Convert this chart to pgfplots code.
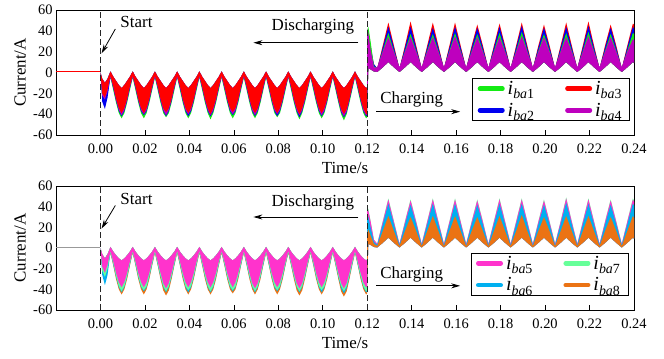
\documentclass[border=0pt]{standalone}
\usepackage{pgfplots}
\pgfplotsset{compat=1.18}
\usepackage{pgfplotstable}
\usepgfplotslibrary{fillbetween}
\usetikzlibrary{arrows.meta}
\usepackage{fontspec}
\setmainfont{Liberation Serif}

\definecolor{colG}{RGB}{20,235,20}
\definecolor{colB}{RGB}{0,0,240}
\definecolor{colR}{RGB}{255,0,0}
\definecolor{colM}{RGB}{190,0,190}
\definecolor{colP}{RGB}{255,51,204}
\definecolor{colC}{RGB}{0,176,240}
\definecolor{colL}{RGB}{102,255,153}
\definecolor{colO}{RGB}{235,115,20}

% top plot, discharging: shared upper edge (hi), lower edges g b m r
\pgfplotstableread{
t hi g b m r
0.0000 0 0 0 0 0
0.0008 -6 -24 -28 -22 -20
0.0020 -10 -28 -35 -26 -24
0.0032 -6 -20 -24 -18 -16
0.0045 1 -5 -4 -4 -3
0.00575 -4 -17 -15 -14 -13
0.00700 -8 -29 -27 -26 -25
0.00825 -12 -39 -37 -36 -34
0.00950 -15 -44 -42 -41 -39
0.01075 -12 -39 -37 -36 -34
0.01200 -8 -29 -27 -26 -25
0.01325 -4 -17 -15 -14 -13
0.01450 1 -5 -4 -4 -3
0.01575 -4 -17 -15 -14 -13
0.01700 -8 -29 -27 -26 -25
0.01825 -12 -39 -37 -36 -34
0.01950 -15 -44 -41 -40 -39
0.02075 -12 -39 -37 -36 -34
0.02200 -8 -29 -27 -26 -25
0.02325 -4 -17 -15 -14 -13
0.02450 1 -5 -4 -4 -3
0.02575 -4 -17 -15 -14 -13
0.02700 -8 -29 -27 -26 -25
0.02825 -12 -39 -37 -36 -34
0.02950 -15 -43 -42 -41 -38
0.03075 -12 -39 -37 -36 -34
0.03200 -8 -29 -27 -26 -25
0.03325 -4 -17 -15 -14 -13
0.03450 1 -5 -4 -4 -3
0.03575 -4 -17 -15 -14 -13
0.03700 -8 -29 -27 -26 -25
0.03825 -12 -39 -37 -36 -34
0.03950 -15 -44 -42 -40 -39
0.04075 -12 -39 -37 -36 -34
0.04200 -8 -29 -27 -26 -25
0.04325 -4 -17 -15 -14 -13
0.04450 1 -5 -4 -4 -3
0.04575 -4 -17 -15 -14 -13
0.04700 -8 -29 -27 -26 -25
0.04825 -12 -39 -37 -36 -34
0.04950 -15 -45 -42 -41 -40
0.05075 -12 -39 -37 -36 -34
0.05200 -8 -29 -27 -26 -25
0.05325 -4 -17 -15 -14 -13
0.05450 1 -5 -4 -4 -3
0.05575 -4 -17 -15 -14 -13
0.05700 -8 -29 -27 -26 -25
0.05825 -12 -39 -37 -36 -34
0.05950 -15 -44 -41 -40 -38
0.06075 -12 -39 -37 -36 -34
0.06200 -8 -29 -27 -26 -25
0.06325 -4 -17 -15 -14 -13
0.06450 1 -5 -4 -4 -3
0.06575 -4 -17 -15 -14 -13
0.06700 -8 -29 -27 -26 -25
0.06825 -12 -39 -37 -36 -34
0.06950 -15 -44 -42 -41 -39
0.07075 -12 -39 -37 -36 -34
0.07200 -8 -29 -27 -26 -25
0.07325 -4 -17 -15 -14 -13
0.07450 1 -5 -4 -4 -3
0.07575 -4 -17 -15 -14 -13
0.07700 -8 -29 -27 -26 -25
0.07825 -12 -39 -37 -36 -34
0.07950 -15 -43 -42 -40 -39
0.08075 -12 -39 -37 -36 -34
0.08200 -8 -29 -27 -26 -25
0.08325 -4 -17 -15 -14 -13
0.08450 1 -5 -4 -4 -3
0.08575 -4 -17 -15 -14 -13
0.08700 -8 -29 -27 -26 -25
0.08825 -12 -39 -37 -36 -34
0.08950 -15 -45 -43 -41 -40
0.09075 -12 -39 -37 -36 -34
0.09200 -8 -29 -27 -26 -25
0.09325 -4 -17 -15 -14 -13
0.09450 1 -5 -4 -4 -3
0.09575 -4 -17 -15 -14 -13
0.09700 -8 -29 -27 -26 -25
0.09825 -12 -39 -37 -36 -34
0.09950 -15 -44 -42 -41 -39
0.10075 -12 -39 -37 -36 -34
0.10200 -8 -29 -27 -26 -25
0.10325 -4 -17 -15 -14 -13
0.10450 1 -5 -4 -4 -3
0.10575 -4 -17 -15 -14 -13
0.10700 -8 -29 -27 -26 -25
0.10825 -12 -40 -38 -37 -35
0.10950 -15 -46 -43 -42 -40
0.11075 -12 -40 -38 -37 -35
0.11200 -8 -29 -27 -26 -25
0.11325 -4 -17 -15 -14 -13
0.11450 1 -5 -4 -4 -3
0.11575 -4 -17 -15 -14 -13
0.11700 -8 -29 -27 -26 -25
0.11825 -12 -39 -37 -36 -34
0.11950 -15 -44 -42 -41 -40
0.12000 -14 -43 -41 -40 -39
}\dA

% top plot, charging: shared lower edge (lo), upper edges r b g m
\pgfplotstableread{
t lo r b g m
0.1200 -30 28 36 40 42
0.1205 4 30 40 44 38
0.1215 3 22 26 30 22
0.1230 1 8 8 6 5
0.1245 0.5 4 4 4 5
0.1270 5 26 24 21 20
0.1295 10 48 44 38 34
0.1320 5 26 24 21 20
0.1345 0.5 4 4 4 5
0.1370 5 26 24 21 20
0.1395 10 49 44 37 34
0.1420 5 26 24 21 20
0.1445 0.5 4 4 4 5
0.1470 5 26 24 21 20
0.1495 10 48 43 37 34
0.1520 5 26 24 21 20
0.1545 0.5 4 4 4 5
0.1570 5 26 24 21 20
0.1595 10 48 44 38 35
0.1620 5 26 24 21 20
0.1645 0.5 4 4 4 5
0.1670 5 26 24 21 20
0.1695 10 46 43 37 34
0.1720 5 26 24 21 20
0.1745 0.5 4 4 4 5
0.1770 5 26 24 21 20
0.1795 10 47 44 38 34
0.1820 5 26 24 21 20
0.1845 0.5 4 4 4 5
0.1870 5 26 24 21 20
0.1895 10 48 45 39 35
0.1920 5 26 24 21 20
0.1945 0.5 4 4 4 5
0.1970 5 26 24 21 20
0.1995 10 46 43 37 34
0.2020 5 26 24 21 20
0.2045 0.5 4 4 4 5
0.2070 5 26 24 21 20
0.2095 10 48 44 38 34
0.2120 5 26 24 21 20
0.2145 0.5 4 4 4 5
0.2170 5 26 24 21 20
0.2195 10 49 45 39 35
0.2220 5 26 24 21 20
0.2245 0.5 4 4 4 5
0.2270 5 26 24 21 20
0.2295 10 46 43 37 34
0.2320 5 26 24 21 20
0.2345 0.5 4 4 4 5
0.2370 5 26 24 21 20
0.2395 10 47 44 38 32
0.2400 9 46 42 37 31
}\cA

% bottom plot, discharging: shared upper edge (hi), lower edges o c g p
\pgfplotstableread{
t hi o c g p
0.0000 0 0 0 0 0
0.0008 -6 -20 -26 -22 -18
0.0020 -10 -26 -36 -28 -24
0.0032 -6 -20 -26 -20 -16
0.0045 1 -5 -4 -4 -3
0.00575 -3.5 -17 -16 -15 -13
0.00700 -7 -30 -28 -27 -24
0.00825 -10 -40 -38 -37 -33
0.00950 -12 -45 -43 -42 -38
0.01075 -10 -40 -38 -37 -33
0.01200 -7 -30 -28 -27 -24
0.01325 -3.5 -17 -16 -15 -13
0.01450 1 -5 -4 -4 -3
0.01575 -3.5 -17 -16 -15 -13
0.01700 -7 -30 -28 -27 -24
0.01825 -10 -40 -38 -37 -33
0.01950 -12 -45 -42 -41 -38
0.02075 -10 -40 -38 -37 -33
0.02200 -7 -30 -28 -27 -24
0.02325 -3.5 -17 -16 -15 -13
0.02450 1 -5 -4 -4 -3
0.02575 -3.5 -17 -16 -15 -13
0.02700 -7 -30 -28 -27 -24
0.02825 -10 -41 -38 -37 -34
0.02950 -12 -46 -43 -42 -39
0.03075 -10 -41 -38 -37 -34
0.03200 -7 -30 -28 -27 -24
0.03325 -3.5 -17 -16 -15 -13
0.03450 1 -5 -4 -4 -3
0.03575 -3.5 -17 -16 -15 -13
0.03700 -7 -30 -28 -27 -24
0.03825 -10 -40 -38 -37 -33
0.03950 -12 -45 -43 -41 -38
0.04075 -10 -40 -38 -37 -33
0.04200 -7 -30 -28 -27 -24
0.04325 -3.5 -17 -16 -15 -13
0.04450 1 -5 -4 -4 -3
0.04575 -3.5 -17 -16 -15 -13
0.04700 -7 -30 -28 -27 -24
0.04825 -10 -40 -38 -37 -33
0.04950 -12 -45 -43 -42 -38
0.05075 -10 -40 -38 -37 -33
0.05200 -7 -30 -28 -27 -24
0.05325 -3.5 -17 -16 -15 -13
0.05450 1 -5 -4 -4 -3
0.05575 -3.5 -17 -16 -15 -13
0.05700 -7 -30 -28 -27 -24
0.05825 -10 -40 -38 -37 -33
0.05950 -12 -44 -42 -41 -38
0.06075 -10 -40 -38 -37 -33
0.06200 -7 -30 -28 -27 -24
0.06325 -3.5 -17 -16 -15 -13
0.06450 1 -5 -4 -4 -3
0.06575 -3.5 -17 -16 -15 -13
0.06700 -7 -30 -28 -27 -24
0.06825 -10 -40 -38 -37 -34
0.06950 -12 -45 -43 -42 -39
0.07075 -10 -40 -38 -37 -34
0.07200 -7 -30 -28 -27 -24
0.07325 -3.5 -17 -16 -15 -13
0.07450 1 -5 -4 -4 -3
0.07575 -3.5 -17 -16 -15 -13
0.07700 -7 -30 -28 -27 -24
0.07825 -10 -40 -38 -37 -33
0.07950 -12 -45 -42 -41 -38
0.08075 -10 -40 -38 -37 -33
0.08200 -7 -30 -28 -27 -24
0.08325 -3.5 -17 -16 -15 -13
0.08450 1 -5 -4 -4 -3
0.08575 -3.5 -17 -16 -15 -13
0.08700 -7 -30 -28 -27 -24
0.08825 -10 -41 -38 -37 -34
0.08950 -12 -46 -43 -42 -39
0.09075 -10 -41 -38 -37 -34
0.09200 -7 -30 -28 -27 -24
0.09325 -3.5 -17 -16 -15 -13
0.09450 1 -5 -4 -4 -3
0.09575 -3.5 -17 -16 -15 -13
0.09700 -7 -30 -28 -27 -24
0.09825 -10 -40 -38 -37 -33
0.09950 -12 -45 -43 -41 -38
0.10075 -10 -40 -38 -37 -33
0.10200 -7 -30 -28 -27 -24
0.10325 -3.5 -17 -16 -15 -13
0.10450 1 -5 -4 -4 -3
0.10575 -3.5 -17 -16 -15 -13
0.10700 -7 -30 -28 -27 -24
0.10825 -10 -42 -39 -37 -34
0.10950 -12 -47 -44 -42 -39
0.11075 -10 -42 -39 -37 -34
0.11200 -7 -30 -28 -27 -24
0.11325 -3.5 -17 -16 -15 -13
0.11450 1 -5 -4 -4 -3
0.11575 -3.5 -17 -16 -15 -13
0.11700 -7 -30 -28 -27 -24
0.11825 -10 -40 -38 -37 -33
0.11950 -12 -45 -43 -42 -38
0.12000 -11 -44 -42 -41 -37
}\dB

% bottom plot, charging: shared lower edge (lo), upper edges g p c o
\pgfplotstableread{
t lo g p c o
0.1200 -30 36 40 30 14
0.1205 4 38 36 30 18
0.1215 3 26 26 20 12
0.1230 1 8 8 6 4
0.1245 0.5 4 4 3 2
0.1270 5 26 25.5 23 16.5
0.1295 10 48 47 43 31
0.1320 5 26 25.5 23 16.5
0.1345 0.5 4 4 3 2
0.1370 5 26 25.5 23 16.5
0.1395 10 47 46 42 30
0.1420 5 26 25.5 23 16.5
0.1445 0.5 4 4 3 2
0.1470 5 26 25.5 23 16.5
0.1495 10 48 47 43 31
0.1520 5 26 25.5 23 16.5
0.1545 0.5 4 4 3 2
0.1570 5 26 25.5 23 16.5
0.1595 10 48 47 43 31
0.1620 5 26 25.5 23 16.5
0.1645 0.5 4 4 3 2
0.1670 5 26 25.5 23 16.5
0.1695 10 47 46 42 30
0.1720 5 26 25.5 23 16.5
0.1745 0.5 4 4 3 2
0.1770 5 26 25.5 23 16.5
0.1795 10 48 47 43 31
0.1820 5 26 25.5 23 16.5
0.1845 0.5 4 4 3 2
0.1870 5 26 25.5 23 16.5
0.1895 10 48 47 43 32
0.1920 5 26 25.5 23 16.5
0.1945 0.5 4 4 3 2
0.1970 5 26 25.5 23 16.5
0.1995 10 47 46 42 30
0.2020 5 26 25.5 23 16.5
0.2045 0.5 4 4 3 2
0.2070 5 26 25.5 23 16.5
0.2095 10 49 48 44 31
0.2120 5 26 25.5 23 16.5
0.2145 0.5 4 4 3 2
0.2170 5 26 25.5 23 16.5
0.2195 10 48 47 43 31
0.2220 5 26 25.5 23 16.5
0.2245 0.5 4 4 3 2
0.2270 5 26 25.5 23 16.5
0.2295 10 47 46 42 30
0.2320 5 26 25.5 23 16.5
0.2345 0.5 4 4 3 2
0.2370 5 26 25.5 23 16.5
0.2395 10 48 47 43 31
0.2400 9 46 45 41 29
}\cB

\pgfplotsset{
  myax/.style={
    scale only axis, width=578bp, height=125bp,
    xmin=-0.02, xmax=0.24, ymin=-60, ymax=60,
    xtick={0,0.02,0.04,0.06,0.08,0.1,0.12,0.14,0.16,0.18,0.2,0.22,0.24},
    xticklabels={0.00,0.02,0.04,0.06,0.08,0.10,0.12,0.14,0.16,0.18,0.20,0.22,0.24},
    ytick={-60,-40,-20,0,20,40,60},
    yticklabels={-60,-40,-20,0,20,40,60},
    xtick pos=left, ytick style={draw=none},
    major tick length=5bp,
    every tick/.style={black, line width=0.6pt},
    axis line style={line width=0.8pt},
    ticklabel style={font=\fontsize{14.5}{16}\selectfont},
    xticklabel style={yshift=-5bp},
    label style={font=\fontsize{17}{19}\selectfont},
    xlabel={Time/s}, ylabel={Current/A},
    xlabel style={at={(axis description cs:0.5,-0.265)}, anchor=center},
    ylabel style={at={(axis description cs:-0.062,0.5)}, anchor=center},
    legend columns=2,
    legend cell align=left,
    legend image code/.code={\draw[##1, line width=4.5bp, line cap=round] (2.25bp,0bp) -- (24.75bp,0bp);},
    legend style={draw=black, line width=0.6pt, fill=white,
      inner xsep=5bp, inner ysep=2bp,
      nodes={inner xsep=3bp, inner ysep=1bp},
      row sep=5bp, /tikz/every even column/.append style={column sep=28bp}},
  },
}
\tikzset{
  ann/.style={font=\fontsize{17}{19}\selectfont},
  arr/.style={-{Stealth[length=9bp,width=5bp]}, line width=0.8pt},
  vdash/.style={dash pattern=on 6bp off 3bp, line width=0.8pt, black!85},
}
\newcommand{\lab}[1]{{\fontsize{20}{20}\selectfont\textit{i}}{\fontsize{14}{14}\selectfont\raisebox{-0.3em}{\textit{ba}#1}}}

\begin{document}
\begin{tikzpicture}
% ---------------- top axis ----------------
\begin{axis}[myax, legend style={at={(0.993,0.456)}, anchor=north east}]
\addplot[colM, line width=1.2pt, forget plot] coordinates {(-0.02,0.8) (0,0.8)};
\addplot[colR, line width=0.6pt, forget plot] coordinates {(-0.02,0.8) (0,0.8)};
% discharging
\addplot[draw=none, forget plot, name path=dAhi] table[x=t, y=hi] {\dA};
\addplot[draw=none, forget plot, name path=dAg] table[x=t, y=g] {\dA};
\addplot[draw=none, forget plot, name path=dAb] table[x=t, y=b] {\dA};
\addplot[draw=none, forget plot, name path=dAm] table[x=t, y=m] {\dA};
\addplot[draw=none, forget plot, name path=dAr] table[x=t, y=r] {\dA};
\addplot[fill=colG, draw=none, forget plot] fill between[of=dAhi and dAg];
\addplot[fill=colB, draw=none, forget plot] fill between[of=dAhi and dAb];
\addplot[fill=colM, draw=none, forget plot] fill between[of=dAhi and dAm];
\addplot[fill=colR, draw=none, forget plot] fill between[of=dAhi and dAr];
% charging
\addplot[draw=none, forget plot, name path=cAlo] table[x=t, y=lo] {\cA};
\addplot[draw=none, forget plot, name path=cAr] table[x=t, y=r] {\cA};
\addplot[draw=none, forget plot, name path=cAb] table[x=t, y=b] {\cA};
\addplot[draw=none, forget plot, name path=cAg] table[x=t, y=g] {\cA};
\addplot[draw=none, forget plot, name path=cAm] table[x=t, y=m] {\cA};
\addplot[fill=colR, draw=none, forget plot] fill between[of=cAlo and cAr];
\addplot[fill=colB, draw=none, forget plot] fill between[of=cAlo and cAb];
\addplot[fill=colG, draw=none, forget plot] fill between[of=cAlo and cAg];
\addplot[fill=colM, draw=none, forget plot] fill between[of=cAlo and cAm];
% annotations
\draw[vdash] (axis cs:0,-60) -- (axis cs:0,60);
\draw[vdash] (axis cs:0.12,-60) -- (axis cs:0.12,60);
\node[ann] at (axis cs:0.0162,48.8) {Start};
\draw[arr] (axis cs:0.0067,41.8) -- (axis cs:0.0005,18.4);
\node[ann] at (axis cs:0.0955,44.6) {Discharging};
\draw[arr] (axis cs:0.116,28.6) -- (axis cs:0.0688,28.6);
\node[ann] at (axis cs:0.140,-25.7) {Charging};
\draw[arr] (axis cs:0.124,-37.6) -- (axis cs:0.1618,-37.6);
% legend
\addlegendimage{colG}\addlegendentry{\lab{1}}
\addlegendimage{colR}\addlegendentry{\lab{3}}
\addlegendimage{colB}\addlegendentry{\lab{2}}
\addlegendimage{colM}\addlegendentry{\lab{4}}
\end{axis}

% ---------------- bottom axis ----------------
\begin{axis}[myax, at={(0bp,-175bp)}, height=124bp,
  legend style={at={(0.99,0.462)}, anchor=north east}]
\addplot[colP, line width=1.2pt, forget plot] coordinates {(-0.02,0.8) (0,0.8)};
\addplot[black!40, line width=0.4pt, forget plot] coordinates {(-0.02,0.8) (0,0.8)};
% discharging
\addplot[draw=none, forget plot, name path=dBhi] table[x=t, y=hi] {\dB};
\addplot[draw=none, forget plot, name path=dBo] table[x=t, y=o] {\dB};
\addplot[draw=none, forget plot, name path=dBc] table[x=t, y=c] {\dB};
\addplot[draw=none, forget plot, name path=dBg] table[x=t, y=g] {\dB};
\addplot[draw=none, forget plot, name path=dBp] table[x=t, y=p] {\dB};
\addplot[fill=colO, draw=none, forget plot] fill between[of=dBhi and dBo];
\addplot[fill=colC, draw=none, forget plot] fill between[of=dBhi and dBc];
\addplot[fill=colL, draw=none, forget plot] fill between[of=dBhi and dBg];
\addplot[fill=colP, draw=none, forget plot] fill between[of=dBhi and dBp];
% charging
\addplot[draw=none, forget plot, name path=cBlo] table[x=t, y=lo] {\cB};
\addplot[draw=none, forget plot, name path=cBg] table[x=t, y=g] {\cB};
\addplot[draw=none, forget plot, name path=cBp] table[x=t, y=p] {\cB};
\addplot[draw=none, forget plot, name path=cBc] table[x=t, y=c] {\cB};
\addplot[draw=none, forget plot, name path=cBo] table[x=t, y=o] {\cB};
\addplot[fill=colL, draw=none, forget plot] fill between[of=cBlo and cBg];
\addplot[fill=colP, draw=none, forget plot] fill between[of=cBlo and cBp];
\addplot[fill=colC, draw=none, forget plot] fill between[of=cBlo and cBc];
\addplot[fill=colO, draw=none, forget plot] fill between[of=cBlo and cBo];
% annotations
\draw[vdash] (axis cs:0,-60) -- (axis cs:0,60);
\draw[vdash] (axis cs:0.12,-60) -- (axis cs:0.12,60);
\node[ann] at (axis cs:0.0162,47.6) {Start};
\draw[arr] (axis cs:0.0067,41.2) -- (axis cs:0.0005,18.8);
\node[ann] at (axis cs:0.0955,44.4) {Discharging};
\draw[arr] (axis cs:0.116,30) -- (axis cs:0.0688,30);
\node[ann] at (axis cs:0.140,-26) {Charging};
\draw[arr] (axis cs:0.124,-36.6) -- (axis cs:0.1618,-36.6);
% legend
\addlegendimage{colP}\addlegendentry{\lab{5}}
\addlegendimage{colL}\addlegendentry{\lab{7}}
\addlegendimage{colC}\addlegendentry{\lab{6}}
\addlegendimage{colO}\addlegendentry{\lab{8}}
\end{axis}
\pgfresetboundingbox
\path (-56bp,-224bp) rectangle (608bp,135bp);
\end{tikzpicture}
\end{document}
